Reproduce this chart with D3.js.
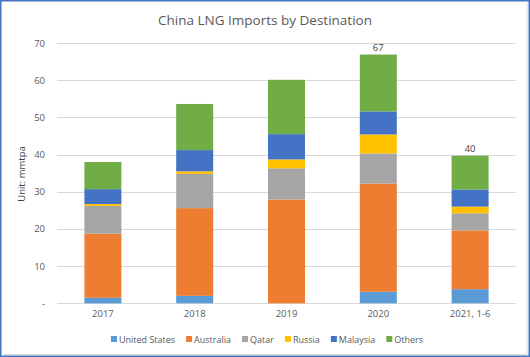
<!DOCTYPE html>
<html>
<head>
<meta charset="utf-8">
<script src="https://cdn.jsdelivr.net/npm/d3@7"></script>
<style>
  html, body { margin: 0; padding: 0; background: #fff; }
  svg { display: block; }
  text { font-family: "Open Sans", "Noto Sans", sans-serif; }
</style>
</head>
<body>
<svg id="chart" width="530" height="357"></svg>
<script>
const categories = ["2017", "2018", "2019", "2020", "2021, 1-6"];
const seriesNames = ["United States", "Australia", "Qatar", "Russia", "Malaysia", "Others"];
const unitedStates = [1.5, 2.0, 0.0, 3.1, 3.8];
const australia    = [17.2, 23.6, 27.9, 29.1, 15.8];
const qatar        = [7.5, 9.2, 8.4, 8.1, 4.6];
const russia       = [0.5, 0.7, 2.4, 5.1, 1.8];
const malaysia     = [4.0, 5.7, 6.8, 6.2, 4.6];
const others       = [7.3, 12.4, 14.6, 15.3, 9.1];
const totalLabels  = ["", "", "", "67", "40"];
const yTickValues  = [0, 10, 20, 30, 40, 50, 60, 70];
const yTickLabels  = ["-", "10", "20", "30", "40", "50", "60", "70"];
const colors = ["#5B9BD5", "#ED7D31", "#A5A5A5", "#FFC000", "#4472C4", "#70AD47"];

const seriesValues = [unitedStates, australia, qatar, russia, malaysia, others];
const rows = categories.map((c, i) => {
  const r = { category: c };
  seriesNames.forEach((s, j) => r[s] = seriesValues[j][i]);
  return r;
});

const svg = d3.select("#chart");
const W = 530, H = 357;

// frame
svg.append("rect").attr("x", 0).attr("y", 0).attr("width", W).attr("height", H).attr("fill", "#fff");
svg.append("line").attr("x1", 527).attr("x2", 527).attr("y1", 3).attr("y2", 354.5)
  .attr("stroke", "#d9d9d9").attr("stroke-width", 1);
svg.append("line").attr("x1", 3).attr("x2", 527).attr("y1", 354.5).attr("y2", 354.5)
  .attr("stroke", "#d9d9d9").attr("stroke-width", 1);
svg.append("rect").attr("x", 0.75).attr("y", 0.75).attr("width", W - 1.5).attr("height", H - 1.5)
  .attr("fill", "none").attr("stroke", "#4472C4").attr("stroke-width", 1.5);

const x = d3.scaleBand().domain(categories).range([57, 516]).paddingInner(0.597).paddingOuter(0.2985);
const y = d3.scaleLinear().domain([0, 70]).range([303.3, 43]);

// gridlines
svg.append("g").selectAll("line").data(yTickValues).join("line")
  .attr("x1", 57).attr("x2", 516)
  .attr("y1", d => Math.round(y(d)) + 0.5).attr("y2", d => Math.round(y(d)) + 0.5)
  .attr("stroke", "#d9d9d9").attr("stroke-width", 1);

// y axis labels
const yAxis = d3.axisLeft(y).tickValues(yTickValues).tickSize(0).tickPadding(0)
  .tickFormat((d, i) => yTickLabels[i]);
const yg = svg.append("g").attr("transform", "translate(45,0)").call(yAxis);
yg.select(".domain").remove();
yg.selectAll("text").attr("fill", "#595959").style("font-size", "9.5px")
  .style("font-family", "'Open Sans', 'Noto Sans', sans-serif");

// x axis labels
const xAxis = d3.axisBottom(x).tickSize(0).tickPadding(0);
const xg = svg.append("g").attr("transform", "translate(0,310)").call(xAxis);
xg.select(".domain").remove();
xg.selectAll("text").attr("fill", "#595959").style("font-size", "9.5px")
  .style("font-family", "'Open Sans', 'Noto Sans', sans-serif");

// stacked bars
const stack = d3.stack().keys(seriesNames);
const stacked = stack(rows);
svg.append("g").selectAll("g").data(stacked).join("g")
  .attr("fill", (d, i) => colors[i])
  .selectAll("rect").data(d => d).join("rect")
  .attr("x", d => x(d.data.category))
  .attr("width", x.bandwidth())
  .attr("y", d => y(d[1]))
  .attr("height", d => Math.max(0, y(d[0]) - y(d[1])));

// total labels
const totals = rows.map(r => d3.sum(seriesNames, s => r[s]));
svg.append("g").selectAll("text").data(categories).join("text")
  .attr("x", d => x(d) + x.bandwidth() / 2)
  .attr("y", (d, i) => y(totals[i]) - 4)
  .attr("text-anchor", "middle")
  .attr("fill", "#404040").style("font-size", "9.5px")
  .text((d, i) => totalLabels[i]);

// title
svg.append("text").attr("x", 265).attr("y", 25).attr("text-anchor", "middle")
  .attr("fill", "#595959").style("font-size", "13.5px")
  .text("China LNG Imports by Destination");

// y axis title
svg.append("text").attr("transform", "translate(25,174) rotate(-90)")
  .attr("text-anchor", "middle").attr("fill", "#404040").style("font-size", "9.5px")
  .text("Unit: mmtpa");

// legend
const lg = svg.append("g");
const items = lg.selectAll("g").data(seriesNames).join("g");
items.append("rect").attr("width", 6).attr("height", 6).attr("y", -3)
  .attr("fill", (d, i) => colors[i]);
items.append("text").attr("x", 8).attr("y", 3.5)
  .attr("fill", "#595959").style("font-size", "9px").text(d => d);
let cx = 0;
const gap = 11;
const positions = [];
items.each(function() {
  const w = d3.select(this).select("text").node().getComputedTextLength() + 8;
  positions.push(cx);
  cx += w + gap;
});
const totalW = cx - gap;
const startX = 267 - totalW / 2;
items.attr("transform", (d, i) => `translate(${startX + positions[i]},339)`);
</script>
</body>
</html>
